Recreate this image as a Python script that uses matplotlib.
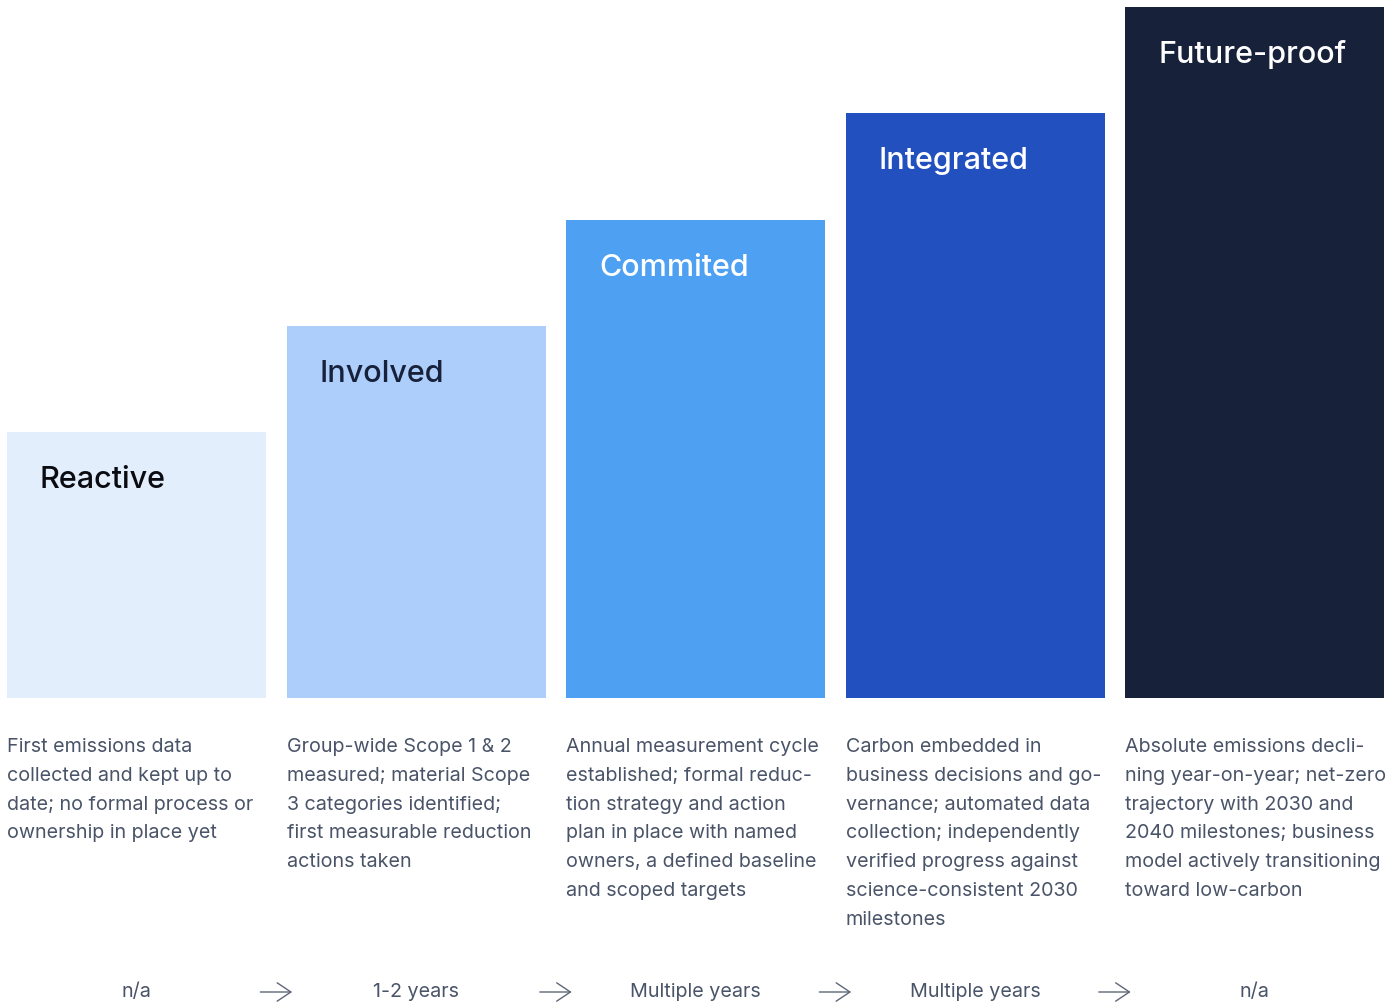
import matplotlib.pyplot as plt
import matplotlib.transforms as mtransforms

plt.rcParams["font.family"] = ["Inter", "DejaVu Sans"]

# stage data
stages = ["Reactive", "Involved", "Commited", "Integrated", "Future-proof"]
levels = [2.5, 3.5, 4.5, 5.5, 6.5]
bar_colors = ["#E2EEFC", "#ADCDFB", "#4DA0F2", "#2350BF", "#17213A"]
label_colors = ["#0B0B12", "#17213A", "#FFFFFF", "#FFFFFF", "#FFFFFF"]
descriptions = [
    ["First emissions data", "collected and kept up to", "date; no formal process or",
     "ownership in place yet"],
    ["Group-wide Scope 1 & 2", "measured; material Scope", "3 categories identified;",
     "first measurable reduction", "actions taken"],
    ["Annual measurement cycle", "established; formal reduc-", "tion strategy and action",
     "plan in place with named", "owners, a defined baseline", "and scoped targets"],
    ["Carbon embedded in", "business decisions and go-", "vernance; automated data",
     "collection; independently", "verified progress against",
     "science-consistent 2030", "milestones"],
    ["Absolute emissions decli-", "ning year-on-year; net-zero", "trajectory with 2030 and",
     "2040 milestones; business", "model actively transitioning", "toward low-carbon"],
]
durations = ["n/a", "1-2 years", "Multiple years", "Multiple years", "n/a"]

W, H = 1394, 1006
fig = plt.figure(figsize=(W / 100, H / 100), dpi=100)
ax = fig.add_axes([7 / W, 1 - 698 / H, (1384 - 7) / W, (698 - 7) / H])

width = 259 / 279.5
pos = list(range(len(stages)))
ax.bar(pos, levels, width=width, color=bar_colors, align="center")
ax.set_xlim(-width / 2, pos[-1] + width / 2)
ax.set_ylim(0, max(levels))
ax.axis("off")

for x, lvl, name, c in zip(pos, levels, stages, label_colors):
    ax.annotate(name, (x - width / 2, lvl), xytext=(33, -48), textcoords="offset pixels",
                ha="left", va="center", fontsize=22, color=c, fontweight="medium")

blend = mtransforms.blended_transform_factory(ax.transData, fig.transFigure)
text_grey = "#4A5468"
for x, lines in zip(pos, descriptions):
    ax.text(x - width / 2, 1 - 738 / H, "\n".join(lines), transform=blend,
            ha="left", va="top", fontsize=14.2, color=text_grey, linespacing=1.77)

y_bottom = 1 - 992 / H
for x, d in zip(pos, durations):
    ax.text(x, y_bottom, d, transform=blend, ha="center", va="center",
            fontsize=14.2, color=text_grey)

for x in pos[:-1]:
    mid = x + 0.5
    ax.annotate("", xy=(mid + 0.057, y_bottom), xytext=(mid - 0.057, y_bottom),
                xycoords=blend, textcoords=blend,
                arrowprops=dict(arrowstyle="->, head_length=0.45, head_width=0.3",
                                color="#5F6678", lw=1.0, mutation_scale=22,
                                shrinkA=0, shrinkB=0))

fig.savefig("out.png", dpi=100, facecolor="white")
